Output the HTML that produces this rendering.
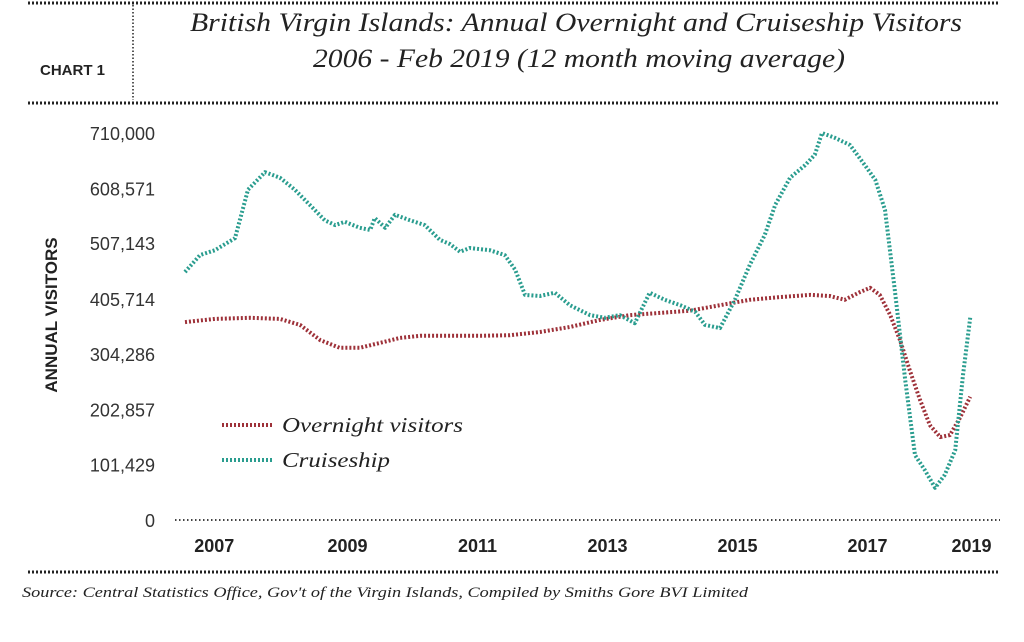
<!DOCTYPE html>
<html><head><meta charset="utf-8"><style>
body{margin:0;background:#fff;width:1024px;height:637px;overflow:hidden}
svg text{font-family:"Liberation Sans",sans-serif}
.serif{font-family:"Liberation Serif",serif;font-style:italic}
</style></head><body>
<svg id="chart" width="1024" height="637">
<g>
<line x1="28" y1="3" x2="1000" y2="3" stroke="#222" stroke-width="3" stroke-dasharray="2,2"/>
<line x1="28" y1="103" x2="1000" y2="103" stroke="#222" stroke-width="3" stroke-dasharray="2,2"/>
<line x1="133" y1="5" x2="133" y2="100" stroke="#222" stroke-width="1.5" stroke-dasharray="1.5,2"/>
<text x="40" y="75" font-size="15" font-weight="bold" fill="#222">CHART 1</text>
<text class="serif" x="190" y="31" font-size="26" fill="#222" textLength="772" lengthAdjust="spacingAndGlyphs">British Virgin Islands:  Annual Overnight and  Cruiseship Visitors</text>
<text class="serif" x="313" y="67" font-size="26" fill="#222" textLength="532" lengthAdjust="spacingAndGlyphs">2006 - Feb 2019 (12 month moving average)</text>
</g>
<text x="57" y="315" font-size="17" font-weight="bold" fill="#222" text-anchor="middle" transform="rotate(-90 57 315)">ANNUAL VISITORS</text>
<g id="yaxis"></g>
<g id="xaxis"></g>
<line x1="175" y1="520" x2="1000" y2="520" stroke="#444" stroke-width="2" stroke-dasharray="1.5,2.5"/>
<g id="series"></g>
<g>
<line x1="222" y1="425" x2="272" y2="425" stroke="#9e3139" stroke-width="4" stroke-dasharray="2,2"/>
<text class="serif" x="282" y="432" font-size="21" fill="#222" textLength="181" lengthAdjust="spacingAndGlyphs">Overnight visitors</text>
<line x1="222" y1="460" x2="272" y2="460" stroke="#2a9d8f" stroke-width="4" stroke-dasharray="2,2"/>
<text class="serif" x="282" y="467" font-size="21" fill="#222" textLength="108" lengthAdjust="spacingAndGlyphs">Cruiseship</text>
</g>
<line x1="28" y1="572" x2="1000" y2="572" stroke="#222" stroke-width="3" stroke-dasharray="2,2"/>
<text class="serif" x="22" y="597" font-size="14.5" fill="#222" textLength="726" lengthAdjust="spacingAndGlyphs">Source: Central Statistics Office, Gov't of the Virgin Islands, Compiled by Smiths Gore BVI Limited</text>
</svg>
<script>
const yTicks=[0,101429,202857,304286,405714,508143,608571,710000];
const yTickLabels=["0","101,429","202,857","304,286","405,714","507,143","608,571","710,000"];
const xTickYears=[2007.35,2009.4,2011.4,2013.4,2015.4,2017.4,2019.0];
const xTickLabels=["2007","2009","2011","2013","2015","2017","2019"];
const cruiseT=[2006.9,2007.13,2007.36,2007.67,2007.87,2008.13,2008.36,2008.59,2008.82,2009.05,2009.21,2009.36,2009.59,2009.75,2009.82,2009.98,2010.13,2010.36,2010.59,2010.82,2010.98,2011.13,2011.28,2011.59,2011.82,2011.98,2012.13,2012.36,2012.59,2012.82,2013.13,2013.36,2013.59,2013.82,2014.05,2014.28,2014.52,2014.75,2014.9,2015.13,2015.36,2015.59,2015.82,2015.98,2016.21,2016.44,2016.59,2016.7,2016.9,2017.13,2017.36,2017.52,2017.67,2017.82,2017.98,2018.13,2018.28,2018.44,2018.59,2018.75,2018.87,2018.98];
const cruiseV=[455000,486000,495000,517000,606000,638000,628000,606000,578000,550000,541000,547000,536000,532000,554000,536000,560000,550000,541000,514000,506000,492000,499000,495000,486000,459000,413000,411000,417000,394000,376000,371000,376000,361000,417000,404000,394000,382000,358000,352000,404000,468000,523000,578000,628000,651000,670000,710000,701000,688000,651000,624000,569000,422000,257000,119000,92000,59000,83000,128000,266000,371000];
const overT=[2006.9,2007.36,2007.9,2008.36,2008.67,2008.98,2009.28,2009.59,2009.9,2010.21,2010.52,2010.98,2011.44,2011.9,2012.36,2012.82,2013.28,2013.75,2014.21,2014.67,2015.13,2015.59,2016.05,2016.52,2016.82,2017.05,2017.28,2017.44,2017.59,2017.75,2017.9,2018.05,2018.21,2018.36,2018.52,2018.67,2018.82,2018.98];
const overV=[363000,369000,371000,369000,358000,330000,316000,316000,325000,334000,338000,338000,338000,339000,345000,354000,367000,376000,380000,384000,394000,404000,409000,413000,411000,404000,418000,426000,413000,376000,330000,275000,220000,174000,152000,156000,187000,226000];
const NS="http://www.w3.org/2000/svg";
const xS=t=>185+(t-2006.9)*65;
const yS=v=>520-v/710000*387;
const ya=document.getElementById('yaxis'),xa=document.getElementById('xaxis'),sg=document.getElementById('series');
yTicks.forEach((v,i)=>{const t=document.createElementNS(NS,'text');


t.setAttribute('x',155);t.setAttribute('y',yS(v)+7);t.setAttribute('text-anchor','end');t.setAttribute('font-size','18');t.setAttribute('fill','#333');t.textContent=yTickLabels[i];ya.appendChild(t);});
xTickYears.forEach((v,i)=>{const t=document.createElementNS(NS,'text');


t.setAttribute('x',xS(v));t.setAttribute('y',552);t.setAttribute('text-anchor','middle');t.setAttribute('font-size','18');t.setAttribute('font-weight','bold');t.setAttribute('fill','#222');t.textContent=xTickLabels[i];xa.appendChild(t);});
function line(T,V,col,name){const p=document.createElementNS(NS,'path');


p.setAttribute('d',T.map((t,i)=>(i?'L':'M')+xS(t).toFixed(1)+','+yS(V[i]).toFixed(1)).join(''));
p.setAttribute('fill','none');p.setAttribute('stroke',col);p.setAttribute('stroke-width','4');p.setAttribute('stroke-dasharray','2,2');p.setAttribute('stroke-linejoin','round');sg.appendChild(p);}
line(overT,overV,'#9e3139','overnight-line');
line(cruiseT,cruiseV,'#2a9d8f','cruiseship-line');
</script>
</body></html>
